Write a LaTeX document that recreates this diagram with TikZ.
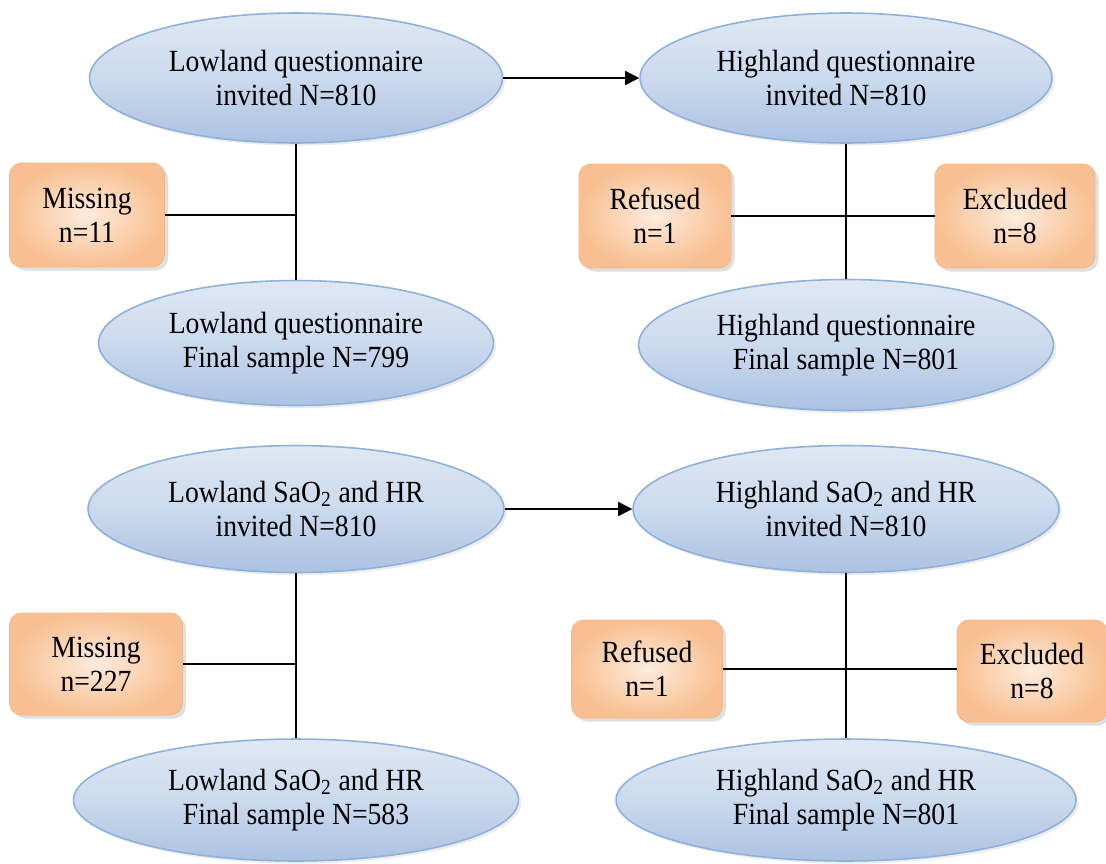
\documentclass[tikz,border=0pt]{standalone}
\usepackage{fontspec}
\setmainfont{Liberation Serif}[FakeStretch=0.9]
\usetikzlibrary{shapes.geometric, shadows, arrows.meta, positioning}

\begin{document}
\begin{tikzpicture}[x=0.02cm, y=-0.02cm,
  elipse/.style={ellipse, draw=elipborda, line width=0.9pt, inner sep=0pt,
    top color=elipclaro, bottom color=elipescuro, middle color=elipmeio,
    align=center, font=\fontsize{17.5}{19.5}\selectfont,
    drop shadow={opacity=0.15, shadow xshift=1.5pt, shadow yshift=-1.5pt}},
  caixa/.style={rectangle, rounded corners=7pt, draw=caixaborda, line width=0.5pt,
    inner sep=0pt, inner color=caixaclaro, outer color=caixaescuro,
    align=center, font=\fontsize{17.5}{19.5}\selectfont,
    drop shadow={opacity=0.25, shadow xshift=2pt, shadow yshift=-2pt}},
  ligacao/.style={line width=0.8pt, color=black},
  seta/.style={ligacao, -{Triangle[length=8pt, width=8pt]}}
]
% --- CORES HEX, SOMBRAS E GRADIENTES ---
\definecolor{elipborda}{HTML}{8FB0D9}
\definecolor{elipclaro}{HTML}{DFE8F4}
\definecolor{elipmeio}{HTML}{CBDAEE}
\definecolor{elipescuro}{HTML}{ABC2E2}
\definecolor{caixaborda}{HTML}{F5B585}
\definecolor{caixaclaro}{HTML}{FDEBDD}
\definecolor{caixaescuro}{HTML}{F8C092}

\useasboundingbox (0,0) rectangle (1106,863);

% LAYER 1: Questionario (convidados e amostra final)
\node[elipse, minimum width=8.26cm, minimum height=2.6cm] (lqi) at (296,78) {Lowland questionnaire\\invited N=810};
\node[elipse, minimum width=8.24cm, minimum height=2.6cm] (hqi) at (846,78) {Highland questionnaire\\invited N=810};
\node[elipse, minimum width=7.9cm, minimum height=2.5cm] (lqf) at (296,343) {Lowland questionnaire\\Final sample N=799};
\node[elipse, minimum width=8.3cm, minimum height=2.62cm] (hqf) at (846,345) {Highland questionnaire\\Final sample N=801};

% LAYER 2: Caixas de perdas (questionario)
\node[caixa, minimum width=3.1cm, minimum height=2.08cm] (lqmiss) at (87,215) {Missing\\n=11};
\node[caixa, minimum width=3.04cm, minimum height=2.08cm] (hqref) at (655,216) {Refused\\n=1};
\node[caixa, minimum width=3.2cm, minimum height=2.08cm] (hqexc) at (1015,216) {Excluded\\n=8};

% LAYER 3: SaO2 e HR (convidados e amostra final)
\node[elipse, minimum width=8.32cm, minimum height=2.54cm] (lsi) at (296,509) {Lowland SaO\textsubscript{2} and HR\\invited N=810};
\node[elipse, minimum width=8.52cm, minimum height=2.54cm] (hsi) at (846,509) {Highland SaO\textsubscript{2} and HR\\invited N=810};
\node[elipse, minimum width=8.9cm, minimum height=2.44cm] (lsf) at (296,800) {Lowland SaO\textsubscript{2} and HR\\Final sample N=583};
\node[elipse, minimum width=9.2cm, minimum height=2.44cm] (hsf) at (846,800) {Highland SaO\textsubscript{2} and HR\\Final sample N=801};

% LAYER 4: Caixas de perdas (SaO2 e HR)
\node[caixa, minimum width=3.46cm, minimum height=2.04cm] (lsmiss) at (96,664) {Missing\\n=227};
\node[caixa, minimum width=3.02cm, minimum height=1.96cm] (hsref) at (647,669) {Refused\\n=1};
\node[caixa, minimum width=3.0cm, minimum height=2.04cm] (hsexc) at (1032,671) {Excluded\\n=8};

% LAYER 5: Ligacoes
\draw[seta] (lqi.east) -- (hqi.west);
\draw[seta] (lsi.east) -- (hsi.west);
\draw[ligacao] (lqi.south) -- (lqf.north);
\draw[ligacao] (hqi.south) -- (hqf.north);
\draw[ligacao] (lsi.south) -- (lsf.north);
\draw[ligacao] (hsi.south) -- (hsf.north);
\draw[ligacao] (lqmiss.east) -- (lqmiss.east -| lqi.south);
\draw[ligacao] (hqref.east) -- (hqexc.west);
\draw[ligacao] (lsmiss.east) -- (lsmiss.east -| lsi.south);
\draw[ligacao] (hsref.east) -- (hsref.east -| hsexc.west);
\end{tikzpicture}
\end{document}
